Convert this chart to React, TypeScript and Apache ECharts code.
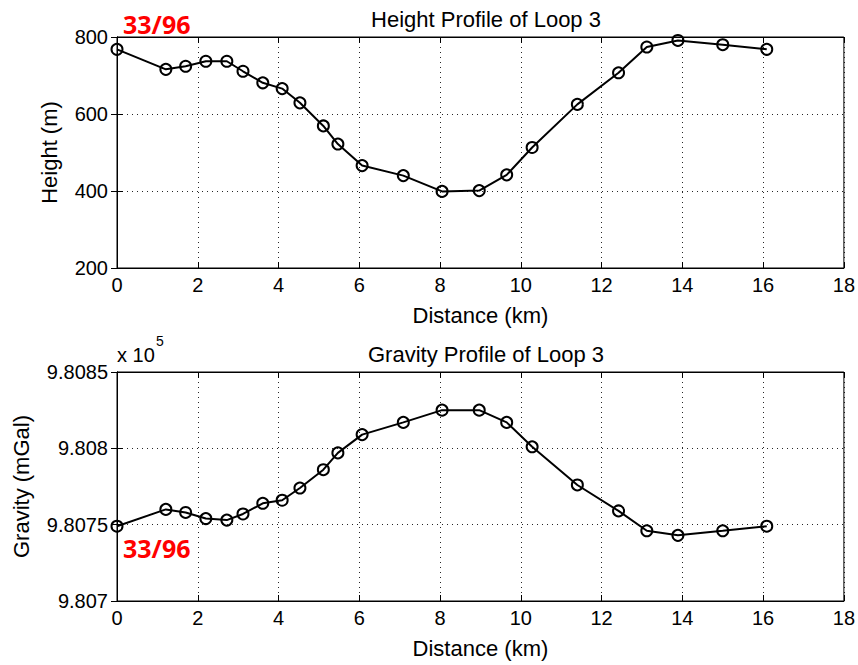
import React, { useEffect, useRef } from "react";
import * as echarts from "echarts";

const distanceKm = [0, 1.21, 1.7, 2.2, 2.72, 3.12, 3.61, 4.09, 4.53, 5.11, 5.47, 6.07, 7.09, 8.05, 8.97, 9.65, 10.28, 11.4, 12.42, 13.12, 13.89, 15.0, 16.09];
const heightM = [768, 716, 724, 737, 737, 711, 681, 666, 629, 569, 522, 466, 440, 399, 401, 442, 513, 625, 707, 774, 791, 780, 768];
const gravityMGal = [980749, 980760, 980758, 980754, 980753, 980757, 980764, 980766, 980774, 980786, 980797, 980809, 980817, 980825, 980825, 980817, 980801, 980776, 980759, 980746, 980743, 980746, 980749];

const xTicks = { min: 0, max: 18, interval: 2 };
const heightTicks = { min: 200, max: 800, interval: 200 };
const gravityTicks = { min: 980700, max: 980850, interval: 50 };

const titles = ["Height Profile of Loop 3", "Gravity Profile of Loop 3"];
const xName = "Distance (km)";
const yNames = ["Height (m)", "Gravity (mGal)"];
const stamp = "33/96";

const FONT = "Liberation Sans, Arial, sans-serif";
const FS = 20;
const FN = 22;

export default function App() {
  const ref = useRef<HTMLDivElement>(null);
  useEffect(() => {
    if (!ref.current) return;
    const chart = echarts.init(ref.current, null, { renderer: "svg" });
    const grids = [
      { left: 117, top: 37, width: 728, height: 231 },
      { left: 117, top: 372, width: 728, height: 229 },
    ];
    const txt = { fontFamily: FONT, fontSize: FS, color: "#000" };
    const nameTxt = { fontFamily: FONT, fontSize: FN, color: "#000" };
    const grid = (i: number) => ({ ...grids[i], show: true, borderColor: "#000", borderWidth: 1, backgroundColor: "#fff" });
    const dotted = { show: true, lineStyle: { color: "#000", width: 1, type: [1, 4] as any, opacity: 0.85 } };
    const mainX = (i: number) => ({
      type: "value",
      gridIndex: i,
      ...xTicks,
      name: xName,
      nameLocation: "middle",
      nameGap: 36,
      nameTextStyle: nameTxt,
      axisLine: { show: true, lineStyle: { color: "#000", width: 1 } },
      axisTick: { show: true, inside: true, length: 6, lineStyle: { color: "#000" } },
      axisLabel: { ...txt, margin: 7 },
      splitLine: dotted,
    });
    const topX = (i: number) => ({
      type: "value",
      gridIndex: i,
      position: "top",
      ...xTicks,
      axisLine: { show: true, lineStyle: { color: "#000", width: 1 } },
      axisTick: { show: true, inside: true, length: 6, lineStyle: { color: "#000" } },
      axisLabel: { show: false },
      splitLine: { show: false },
    });
    const fmtG = (v: number) => String(parseFloat((v / 1e5).toFixed(4)));
    const mainY = (i: number, ticks: any, name: string, gap: number, fmt?: any) => ({
      type: "value",
      gridIndex: i,
      ...ticks,
      name,
      nameLocation: "middle",
      nameGap: gap,
      nameTextStyle: nameTxt,
      axisLine: { show: true, lineStyle: { color: "#000", width: 1 } },
      axisTick: { show: true, inside: true, length: 6, lineStyle: { color: "#000" } },
      axisLabel: { ...txt, margin: 9, formatter: fmt },
      splitLine: dotted,
    });
    const rightY = (i: number, ticks: any) => ({
      type: "value",
      gridIndex: i,
      position: "right",
      ...ticks,
      axisLine: { show: true, lineStyle: { color: "#000", width: 1 } },
      axisTick: { show: true, inside: true, length: 6, lineStyle: { color: "#000" } },
      axisLabel: { show: false },
      splitLine: { show: false },
    });
    const seriesStyle = {
      type: "line",
      symbol: "circle",
      symbolSize: 11,
      clip: false,
      lineStyle: { color: "#000", width: 2 },
      itemStyle: { color: "rgba(255,255,255,0)", borderColor: "#000", borderWidth: 2 },
      emphasis: { disabled: true },
      z: 5,
    };
    chart.setOption({
      animation: false,
      backgroundColor: "#fff",
      title: [
        { text: titles[0], left: 481, textAlign: "center", top: 3, textStyle: { ...nameTxt, fontWeight: "normal" } },
        { text: titles[1], left: 481, textAlign: "center", top: 338, textStyle: { ...nameTxt, fontWeight: "normal" } },
      ],
      grid: [grid(0), grid(1)],
      xAxis: [mainX(0), mainX(1), topX(0), topX(1)],
      yAxis: [
        mainY(0, heightTicks, yNames[0], 57, undefined),
        mainY(1, gravityTicks, yNames[1], 85, fmtG),
        rightY(0, heightTicks),
        rightY(1, gravityTicks),
      ],
      series: [
        { ...seriesStyle, name: "Height", xAxisIndex: 0, yAxisIndex: 0, data: distanceKm.map((d, i) => [d, heightM[i]]) },
        { ...seriesStyle, name: "Gravity", xAxisIndex: 1, yAxisIndex: 1, data: distanceKm.map((d, i) => [d, gravityMGal[i]]) },
      ],
      graphic: [
        { type: "text", left: 117, top: 345, style: { text: "x 10", font: `${FS}px ${FONT}`, fill: "#000" }, z: 10 },
        { type: "text", left: 156, top: 334, style: { text: "5", font: `14px ${FONT}`, fill: "#000" }, z: 10 },
        { type: "text", left: 123, top: 11, style: { text: stamp, font: `bold 25px Open Sans, sans-serif`, fill: "#ff0000" }, z: 20 },
        { type: "text", left: 123, top: 535, style: { text: stamp, font: `bold 25px Open Sans, sans-serif`, fill: "#ff0000" }, z: 20 },
      ],
    });
    return () => chart.dispose();
  }, []);
  return <div ref={ref} style={{ position: "fixed", left: 0, top: 0, width: 858, height: 665 }} />;
}
